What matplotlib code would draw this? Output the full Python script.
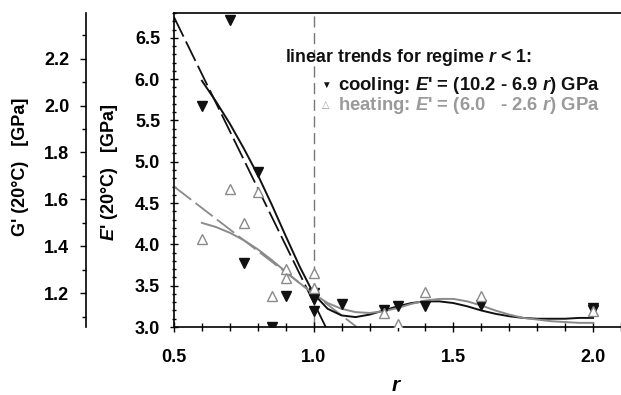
import numpy as np
import matplotlib
matplotlib.use("Agg")
import matplotlib.pyplot as plt
from matplotlib.ticker import MultipleLocator

plt.rcParams['font.family'] = ['Liberation Sans', 'DejaVu Sans']
plt.rcParams['font.weight'] = 'bold'
plt.rcParams['mathtext.fontset'] = 'custom'
plt.rcParams['mathtext.it'] = 'Liberation Sans:italic:bold'
plt.rcParams['mathtext.rm'] = 'Liberation Sans:bold'
plt.rcParams['mathtext.bf'] = 'Liberation Sans:bold'

# measured points, cooling (filled) and heating (open)
r_cool = [0.6, 0.7, 0.75, 0.8, 0.85, 0.9, 1.0, 1.0, 1.0, 1.1, 1.25, 1.3, 1.4, 1.6, 2.0, 2.0]
E_cool = [5.68, 6.72, 3.77, 4.88, 3.0, 3.37, 3.41, 3.34, 3.19, 3.28, 3.2, 3.25, 3.25, 3.27, 3.2, 3.23]
r_heat = [0.6, 0.7, 0.75, 0.8, 0.85, 0.9, 0.9, 1.0, 1.0, 1.25, 1.3, 1.4, 1.6, 2.0]
E_heat = [4.07, 4.67, 4.26, 4.63, 3.37, 3.70, 3.59, 3.65, 3.47, 3.17, 3.04, 3.42, 3.38, 3.19]

# smooth guide curves
r_curve = [0.6, 0.65, 0.7, 0.75, 0.8, 0.85, 0.9, 0.95, 1.0, 1.05, 1.1, 1.15, 1.2, 1.25,
           1.3, 1.35, 1.4, 1.45, 1.5, 1.55, 1.6, 1.65, 1.7, 1.75, 1.8, 1.85, 1.9, 1.95, 2.0]
E_cool_curve = [5.98, 5.73, 5.46, 5.16, 4.84, 4.48, 4.10, 3.73, 3.40, 3.22, 3.14, 3.12, 3.15, 3.20,
                3.25, 3.29, 3.31, 3.31, 3.29, 3.25, 3.20, 3.16, 3.13, 3.11, 3.10, 3.10, 3.10, 3.11, 3.11]
E_heat_curve = [4.26, 4.21, 4.14, 4.05, 3.94, 3.81, 3.67, 3.53, 3.40, 3.29, 3.22, 3.18, 3.17, 3.19,
                3.23, 3.28, 3.32, 3.34, 3.34, 3.31, 3.26, 3.20, 3.15, 3.11, 3.09, 3.07, 3.06, 3.05, 3.05]

# linear trends for r < 1 (end points)
r_fit_cool = [0.5, 1.043]
E_fit_cool = [6.75, 3.0]
r_fit_heat = [0.5, 1.154]
E_fit_heat = [4.7, 3.0]

E_to_G = 2.84
r_limit = 1.0

fig = plt.figure(figsize=(6.21, 3.95), dpi=100)
ax = fig.add_axes([174 / 621, 1 - 327 / 395, 1 - 174 / 621, (327 - 13) / 395])

black = '#111111'
gray = '#8a8a8a'

ax.axvline(r_limit, color='#777777', lw=1.0, dashes=(8, 4), zorder=1)

ax.plot(r_fit_cool, E_fit_cool, color=black, lw=1.3, dashes=(12, 3), zorder=2)
ax.plot(r_fit_heat, E_fit_heat, color=gray, lw=1.3, dashes=(12, 3), zorder=2)
ax.plot(r_curve, E_cool_curve, color=black, lw=1.4, zorder=3)
ax.plot(r_curve, E_heat_curve, color=gray, lw=1.4, zorder=3)

ax.plot(r_cool, E_cool, 'v', color=black, ms=6.5, ls='none', zorder=4)
ax.plot(r_heat, E_heat, '^', mfc='white', mec=gray, mew=1.0, ms=7, ls='none', zorder=4)

ax.set_xlim(0.5, 2.1)
ax.set_ylim(3.0, 6.8)
ax.spines['right'].set_visible(False)
for s in ['left', 'bottom', 'top']:
    ax.spines[s].set_linewidth(1.2)

ax.xaxis.set_major_locator(MultipleLocator(0.5))
ax.xaxis.set_minor_locator(MultipleLocator(0.1))
ax.yaxis.set_major_locator(MultipleLocator(0.5))
ax.yaxis.set_minor_locator(MultipleLocator(0.1))
ax.xaxis.set_major_formatter(lambda v, p: f"{v:.1f}")
ax.yaxis.set_major_formatter(lambda v, p: f"{v:.1f}")
ax.tick_params(axis='x', which='major', direction='inout', length=7, width=1, pad=12, labelsize=13)
ax.tick_params(axis='x', which='minor', direction='inout', length=6, width=1)
ax.tick_params(axis='y', which='major', direction='inout', length=6, width=1, pad=7, labelsize=13)
ax.tick_params(axis='y', which='minor', direction='inout', length=3.5, width=1)
ax.tick_params(top=False, right=False, which='both')

# G' axis on the far left
ax2 = ax.twinx()
ax2.set_ylim(3.0 / E_to_G, 6.8 / E_to_G)
ax2.spines['left'].set_position(('axes', (86 - 174) / 447))
ax2.spines['left'].set_linewidth(1.2)
for s in ['right', 'top', 'bottom']:
    ax2.spines[s].set_visible(False)
ax2.yaxis.set_ticks_position('left')
ax2.yaxis.set_label_position('left')
ax2.yaxis.set_major_locator(MultipleLocator(0.2))
ax2.yaxis.set_minor_locator(MultipleLocator(0.1))
ax2.yaxis.set_major_formatter(lambda v, p: f"{v:.1f}")
ax2.tick_params(axis='y', which='major', direction='out', length=4, width=1, pad=8, labelsize=13)
ax2.tick_params(axis='y', which='minor', direction='out', length=3, width=1)

fig.text(110 / 621, 1 - 172 / 395, "$E$' (20°C)   [GPa]", rotation=90,
         ha='center', va='center', fontsize=13)
fig.text(21 / 621, 1 - 167 / 395, "G' (20°C)   [GPa]", rotation=90,
         ha='center', va='center', fontsize=13)
fig.text(397 / 621, 1 - 376 / 395, "$r$", ha='center', va='top', fontsize=15)

fig.text(285 / 621, 1 - 57 / 395, "linear trends for regime $r$ < 1:",
         ha='left', va='center', fontsize=12.8, color=black)
fig.text(326 / 621, 1 - 85 / 395, "▼", ha='center', va='center', fontsize=7, color=black)
fig.text(338 / 621, 1 - 85 / 395, "cooling: $E$' = (10.2 - 6.9 $r$) GPa",
         ha='left', va='center', fontsize=13.3, color=black)
fig.text(326 / 621, 1 - 105 / 395, "△", ha='center', va='center', fontsize=7, color='#999999')
fig.text(338 / 621, 1 - 105 / 395, "heating: $E$' = (6.0   - 2.6 $r$) GPa",
         ha='left', va='center', fontsize=13.3, color='#9a9a9a')

fig.savefig("out.png", dpi=100)
